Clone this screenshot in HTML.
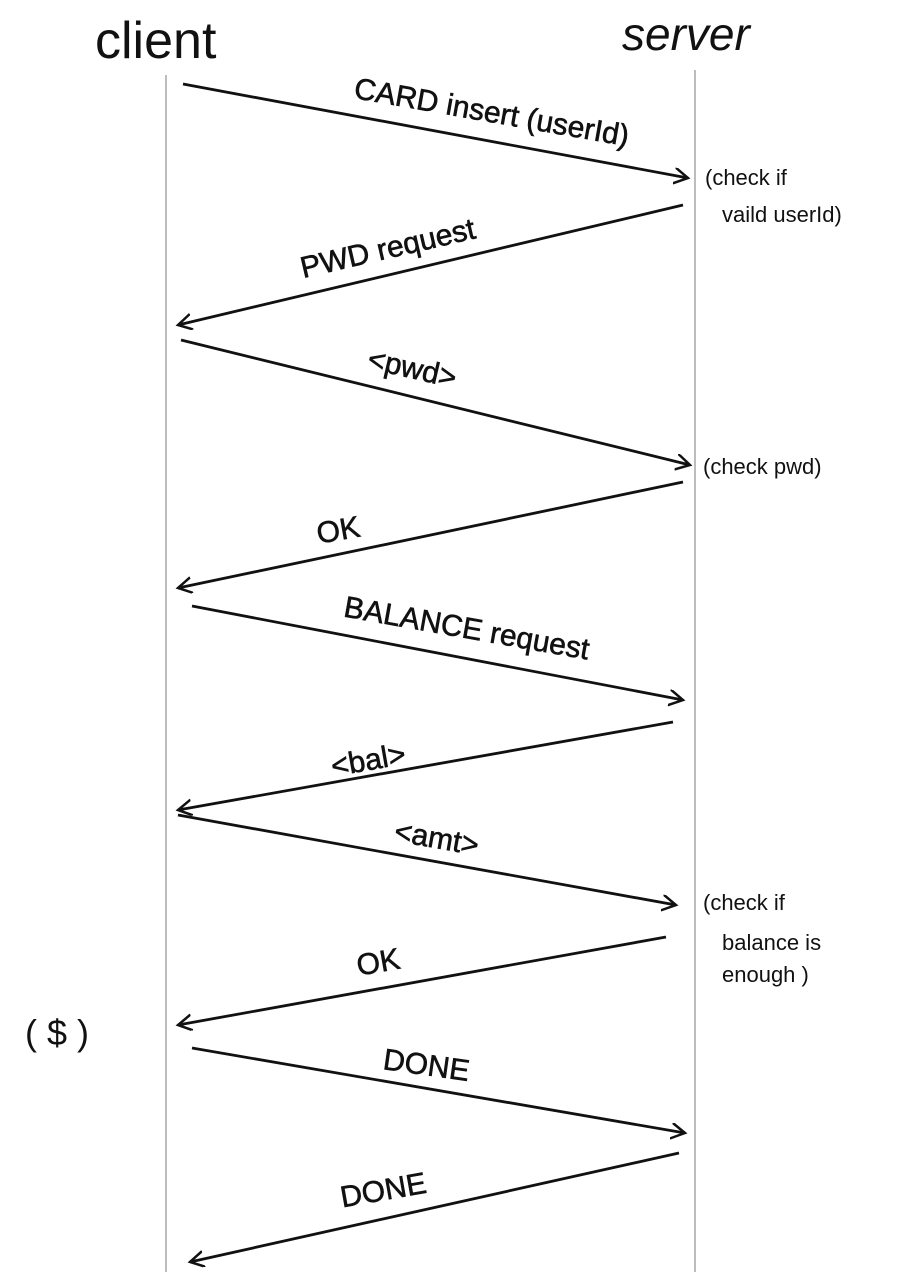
<!DOCTYPE html>
<html><head><meta charset="utf-8"><style>
html,body{margin:0;padding:0;background:#fff;}
svg{display:block;}
text{font-family:"Liberation Sans",sans-serif;fill:#111;}
</style></head><body>
<svg width="905" height="1280" viewBox="0 0 905 1280" xmlns="http://www.w3.org/2000/svg">
<defs>
<marker id="a" markerWidth="20" markerHeight="20" refX="14" refY="8" orient="auto" markerUnits="userSpaceOnUse">
<path d="M0,0 L14,8 L0,16" fill="none" stroke="#111" stroke-width="2.5"/>
</marker>
</defs>
<line x1="166" y1="75" x2="166" y2="1272" stroke="#999" stroke-width="1.3"/>
<line x1="695" y1="70" x2="695" y2="1272" stroke="#999" stroke-width="1.3"/>
<text x="95" y="58" font-size="52">client</text>
<text x="622" y="50" font-size="46" font-style="italic">server</text>
<g stroke="#111" stroke-width="2.8" fill="none" marker-end="url(#a)">
<line x1="183" y1="84" x2="688" y2="178"/>
<line x1="683" y1="205" x2="178" y2="325"/>
<line x1="181" y1="340" x2="690" y2="465"/>
<line x1="683" y1="482" x2="178" y2="588"/>
<line x1="192" y1="606" x2="683" y2="700"/>
<line x1="673" y1="722" x2="178" y2="810"/>
<line x1="178" y1="815" x2="676" y2="905"/>
<line x1="666" y1="937" x2="178" y2="1025"/>
<line x1="192" y1="1048" x2="685" y2="1133"/>
<line x1="679" y1="1153" x2="190" y2="1262"/>
</g>
<g font-size="30" stroke="#111" stroke-width="0.6">
<text x="490" y="122" text-anchor="middle" transform="rotate(10 490 122)">CARD insert (userId)</text>
<text x="390" y="258" text-anchor="middle" transform="rotate(-13 390 258)">PWD request</text>
<text x="410" y="378" text-anchor="middle" transform="rotate(13 410 378)">&lt;pwd&gt;</text>
<text x="340" y="540" text-anchor="middle" transform="rotate(-10 340 540)">OK</text>
<text x="465" y="638" text-anchor="middle" transform="rotate(10 465 638)">BALANCE request</text>
<text x="370" y="770" text-anchor="middle" transform="rotate(-10 370 770)">&lt;bal&gt;</text>
<text x="435" y="848" text-anchor="middle" transform="rotate(10 435 848)">&lt;amt&gt;</text>
<text x="380" y="972" text-anchor="middle" transform="rotate(-10 380 972)">OK</text>
<text x="425" y="1075" text-anchor="middle" transform="rotate(8 425 1075)">DONE</text>
<text x="385" y="1200" text-anchor="middle" transform="rotate(-10 385 1200)">DONE</text>
</g>
<g font-size="22" fill="#222">
<text x="705" y="185">(check if</text>
<text x="722" y="222">vaild userId)</text>
<text x="703" y="474">(check pwd)</text>
<text x="703" y="910">(check if</text>
<text x="722" y="950">balance is</text>
<text x="722" y="982">enough )</text>
</g>
<text x="25" y="1045" font-size="36" fill="#333" letter-spacing="10">($)</text>
</svg>
</body></html>
